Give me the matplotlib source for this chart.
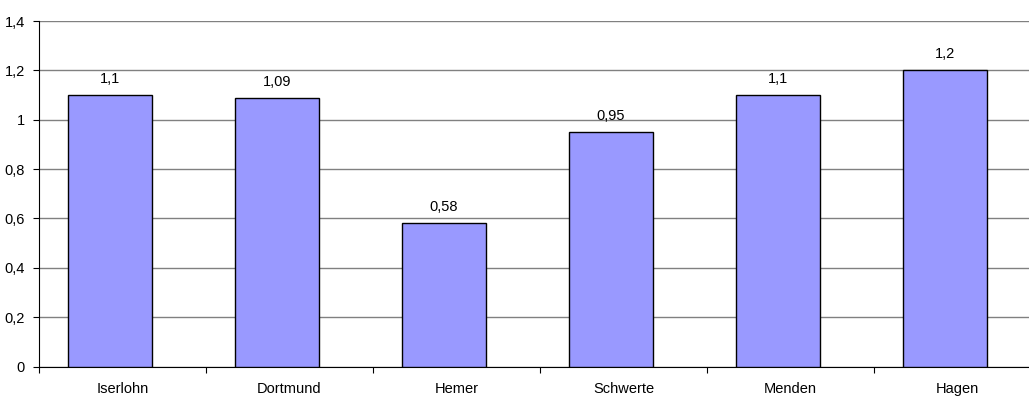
import matplotlib
matplotlib.use("Agg")
import matplotlib.pyplot as plt
import numpy as np

categories = ["Iserlohn", "Dortmund", "Hemer", "Schwerte", "Menden", "Hagen"]
values = [1.1, 1.09, 0.58, 0.95, 1.1, 1.2]
value_labels = ["1,1", "1,09", "0,58", "0,95", "1,1", "1,2"]
yticks = [0, 0.2, 0.4, 0.6, 0.8, 1.0, 1.2, 1.4]
ytick_labels = ["0", "0,2", "0,4", "0,6", "0,8", "1", "1,2", "1,4"]

plt.rcParams['font.family'] = ['Liberation Sans', 'DejaVu Sans']

W, H = 1029, 397
fig = plt.figure(figsize=(W / 100, H / 100), dpi=100)
ax = fig.add_axes([39 / W, 30.5 / H, 1002 / W, 345.5 / H])

n = len(categories)
pos = np.arange(n) + 0.425
ax.bar(pos, values, width=0.503, color="#9999FF", edgecolor="black", linewidth=1.0, zorder=3)

fs = 10.5
for x, v, lab in zip(pos, values, value_labels):
    ax.annotate(lab, (x, v), xytext=(0, 9), textcoords="offset pixels",
                ha="center", va="bottom", fontsize=fs, color="black")

ax.set_xlim(0, n)
ax.set_ylim(0, 1.4)
ax.set_yticks(yticks)
ax.set_yticklabels(ytick_labels, fontsize=fs)
ax.yaxis.grid(True, color="#808080", linewidth=1.0, zorder=0)
ax.set_axisbelow(True)

ax.set_xticks(np.arange(n + 1))
ax.set_xticklabels([])
ax.set_xticks(np.arange(n) + 0.5, minor=True)
ax.set_xticklabels(categories, minor=True, fontsize=fs)
ax.tick_params(axis="x", which="minor", length=0, pad=11)
ax.tick_params(axis="x", which="major", length=4, direction="out", color="black")
ax.tick_params(axis="y", length=4, direction="out", color="black", pad=6)

for s in ["top", "right"]:
    ax.spines[s].set_visible(False)
ax.spines["left"].set_color("black")
ax.spines["bottom"].set_color("black")

fig.savefig("out.png", dpi=100)
